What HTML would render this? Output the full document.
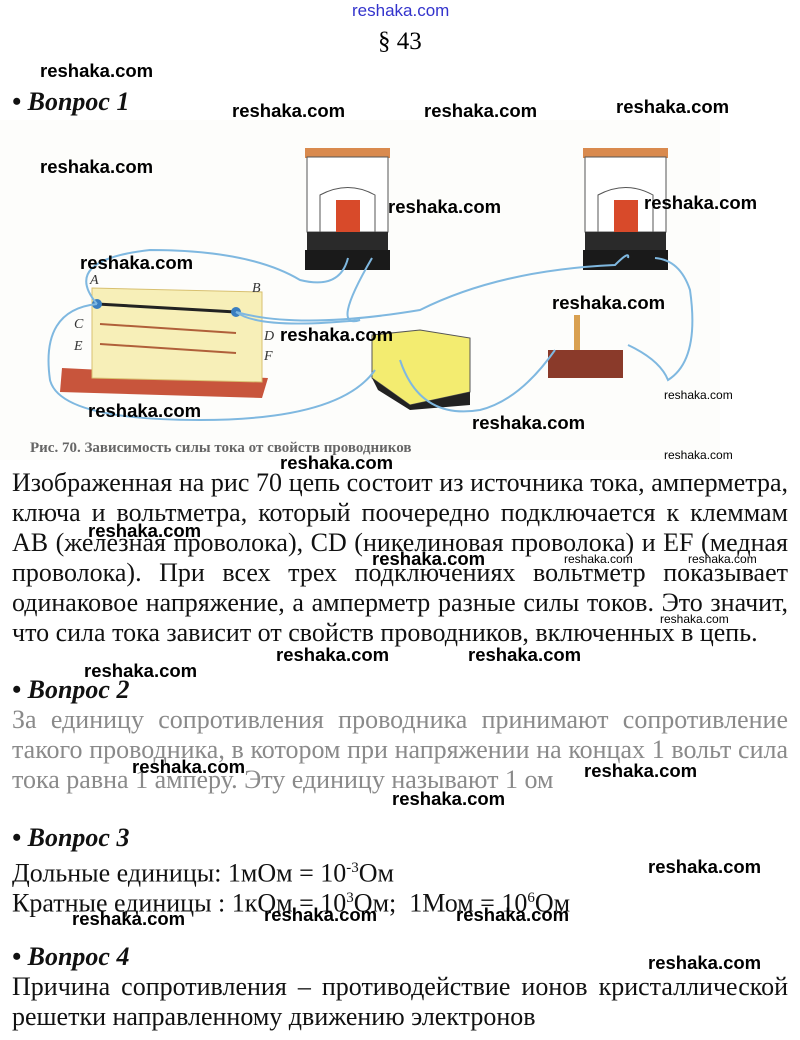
<!DOCTYPE html>
<html><head><meta charset="utf-8"><style>
body{margin:0;background:#fff;width:800px;height:1040px;position:relative;overflow:hidden;font-family:"Liberation Serif",serif;}
.a{position:absolute;}
.w{position:absolute;font-family:"Liberation Sans",sans-serif;font-weight:bold;font-size:18.5px;color:#000;white-space:nowrap;line-height:20px;}
.s{position:absolute;font-family:"Liberation Sans",sans-serif;font-size:12px;color:#000;white-space:nowrap;}
.l{position:absolute;left:12px;width:776px;font-size:26px;line-height:28px;text-align:justify;text-align-last:justify;white-space:nowrap;color:#111;}
.ll{position:absolute;left:12px;font-size:26px;line-height:28px;white-space:nowrap;color:#111;}
.g{color:#8a8a8a;}
.h{position:absolute;left:12px;font-size:26px;font-weight:bold;font-style:italic;line-height:28px;color:#111;}
sup{font-size:15px;}
</style></head><body>
<div class="a" style="left:352px;top:1px;font-family:'Liberation Sans',sans-serif;font-size:17px;color:#3333cc;">reshaka.com</div>
<div class="a" style="left:378px;top:28px;font-size:25px;">§ 43</div>

<svg class="a" style="left:0;top:120px" width="720" height="340" viewBox="0 120 720 340">
<rect x="0" y="120" width="720" height="340" fill="#fdfdfb"/>
<g>
<rect x="305" y="148" width="85" height="10" fill="#d98a4e"/>
<rect x="307" y="157" width="81" height="75" fill="#fff" stroke="#555"/>
<path d="M320 195 Q348 180 375 195 L375 232 L320 232Z" fill="#fff" stroke="#555"/>
<rect x="336" y="200" width="24" height="32" fill="#d84a2a"/>
<rect x="307" y="232" width="81" height="36" fill="#2a2a2a"/>
<rect x="305" y="250" width="85" height="20" fill="#1a1a1a"/>
</g>
<g>
<rect x="583" y="148" width="85" height="10" fill="#d98a4e"/>
<rect x="585" y="157" width="81" height="75" fill="#fff" stroke="#555"/>
<path d="M598 195 Q626 180 653 195 L653 232 L598 232Z" fill="#fff" stroke="#555"/>
<rect x="614" y="200" width="24" height="32" fill="#d84a2a"/>
<rect x="585" y="232" width="81" height="36" fill="#2a2a2a"/>
<rect x="583" y="250" width="85" height="20" fill="#1a1a1a"/>
</g>
<polygon points="62,368 268,378 262,398 60,392" fill="#c8553c"/>
<polygon points="92,288 262,292 262,382 92,378" fill="#f7efb8" stroke="#d8c070"/>
<line x1="97" y1="304" x2="236" y2="312" stroke="#222" stroke-width="3"/>
<line x1="100" y1="324" x2="236" y2="333" stroke="#b0603a" stroke-width="2"/>
<line x1="100" y1="344" x2="236" y2="353" stroke="#b0603a" stroke-width="2"/>
<circle cx="97" cy="304" r="5" fill="#3a7ec0"/><circle cx="236" cy="312" r="5" fill="#3a7ec0"/>
<g font-family="Liberation Serif" font-style="italic" font-size="14" fill="#333"><text x="90" y="284">A</text><text x="252" y="292">B</text><text x="74" y="328">C</text><text x="264" y="340">D</text><text x="74" y="350">E</text><text x="264" y="360">F</text></g>
<polygon points="372,335 420,330 470,338 470,392 410,405 372,378" fill="#f3ec70" stroke="#555"/>
<polygon points="372,378 410,405 470,392 470,405 410,410 378,390" fill="#222"/>
<rect x="548" y="350" width="75" height="28" fill="#8a3a2a"/>
<rect x="574" y="315" width="6" height="35" fill="#d9a050"/>
<g fill="none" stroke="#7fb8e0" stroke-width="2">
<path d="M97 304 Q60 260 150 250 Q250 250 300 280 Q340 290 348 258"/>
<path d="M236 312 Q260 330 360 320 Q330 330 372 258"/>
<path d="M236 312 Q300 330 420 310 Q500 270 615 265 Q630 250 628 258"/>
<path d="M97 304 Q40 310 50 380 Q60 420 200 420 Q340 420 375 370"/>
<path d="M400 360 Q420 420 480 410 Q520 400 555 350"/>
<path d="M628 345 Q660 360 668 380 Q700 360 690 290 Q680 260 655 258"/>
</g>
<text x="30" y="452" font-family="Liberation Serif" font-weight="bold" font-size="15" fill="#666">Рис. 70. Зависимость силы тока от свойств проводников</text>
</svg>

<div class="l" style="top:469px">Изображенная на рис 70 цепь состоит из источника тока, амперметра,</div>
<div class="l" style="top:499px">ключа и вольтметра, который поочередно подключается к клеммам</div>
<div class="l" style="top:529px">AB (железная проволока), CD (никелиновая проволока) и EF (медная</div>
<div class="l" style="top:559px">проволока). При всех трех подключениях вольтметр показывает</div>
<div class="l" style="top:589px">одинаковое напряжение, а амперметр разные силы токов. Это значит,</div>
<div class="ll" style="top:619px">что сила тока зависит от свойств проводников, включенных в цепь.</div>

<div class="h" style="top:676px">• Вопрос 2</div>
<div class="l g" style="top:706px">За единицу сопротивления проводника принимают сопротивление</div>
<div class="l g" style="top:736px">такого проводника, в котором при напряжении на концах 1 вольт сила</div>
<div class="ll g" style="top:766px">тока равна 1 амперу. Эту единицу называют 1 ом</div>

<div class="h" style="top:824px">• Вопрос 3</div>
<div class="ll" style="top:854px">Дольные единицы: 1мОм = 10<sup>-3</sup>Ом</div>
<div class="ll" style="top:884px">Кратные единицы : 1кОм = 10<sup>3</sup>Ом;&nbsp; 1Мом = 10<sup>6</sup>Ом</div>

<div class="h" style="top:943px">• Вопрос 4</div>
<div class="l" style="top:973px">Причина сопротивления – противодействие ионов кристаллической</div>
<div class="ll" style="top:1003px">решетки направленному движению электронов</div>

<div class="h" style="top:88px">• Вопрос 1</div>

<div class="w" style="left:40px;top:61px">reshaka.com</div>
<div class="w" style="left:232px;top:101px">reshaka.com</div>
<div class="w" style="left:424px;top:101px">reshaka.com</div>
<div class="w" style="left:616px;top:97px">reshaka.com</div>
<div class="w" style="left:40px;top:157px">reshaka.com</div>
<div class="w" style="left:388px;top:197px">reshaka.com</div>
<div class="w" style="left:644px;top:193px">reshaka.com</div>
<div class="w" style="left:80px;top:253px">reshaka.com</div>
<div class="w" style="left:552px;top:293px">reshaka.com</div>
<div class="w" style="left:280px;top:325px">reshaka.com</div>
<div class="w" style="left:88px;top:401px">reshaka.com</div>
<div class="w" style="left:472px;top:413px">reshaka.com</div>
<div class="w" style="left:280px;top:453px">reshaka.com</div>
<div class="w" style="left:88px;top:521px">reshaka.com</div>
<div class="w" style="left:372px;top:549px">reshaka.com</div>
<div class="w" style="left:84px;top:661px">reshaka.com</div>
<div class="w" style="left:276px;top:645px">reshaka.com</div>
<div class="w" style="left:468px;top:645px">reshaka.com</div>
<div class="w" style="left:132px;top:757px">reshaka.com</div>
<div class="w" style="left:584px;top:761px">reshaka.com</div>
<div class="w" style="left:392px;top:789px">reshaka.com</div>
<div class="w" style="left:648px;top:857px">reshaka.com</div>
<div class="w" style="left:72px;top:909px">reshaka.com</div>
<div class="w" style="left:264px;top:905px">reshaka.com</div>
<div class="w" style="left:456px;top:905px">reshaka.com</div>
<div class="w" style="left:648px;top:953px">reshaka.com</div>
<div class="s" style="left:664px;top:388px">reshaka.com</div>
<div class="s" style="left:664px;top:448px">reshaka.com</div>
<div class="s" style="left:564px;top:552px">reshaka.com</div>
<div class="s" style="left:688px;top:552px">reshaka.com</div>
<div class="s" style="left:660px;top:612px">reshaka.com</div>
</body></html>
